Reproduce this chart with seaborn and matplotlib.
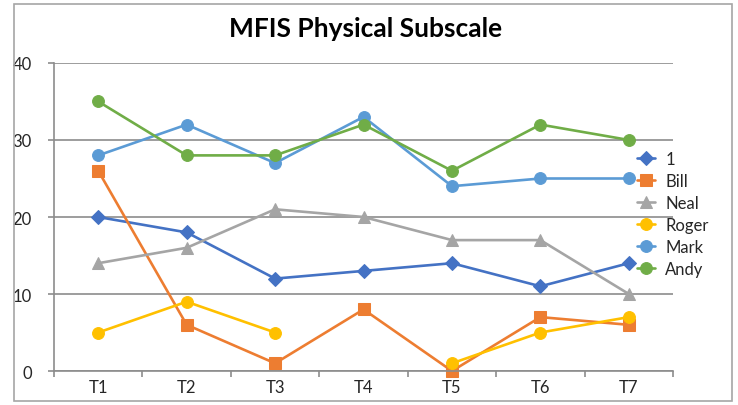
import matplotlib
matplotlib.use("Agg")
import matplotlib.pyplot as plt
import seaborn as sns
import numpy as np
import pandas as pd

# values
times = ["T1", "T2", "T3", "T4", "T5", "T6", "T7"]
series_names = ["1", "Bill", "Neal", "Roger", "Mark", "Andy"]
s_1 = [20, 18, 12, 13, 14, 11, 14]
s_bill = [26, 6, 1, 8, 0, 7, 6]
s_neal = [14, 16, 21, 20, 17, 17, 10]
s_roger = [5, 9, 5, np.nan, 1, 5, 7]
s_mark = [28, 32, 27, 33, 24, 25, 25]
s_andy = [35, 28, 28, 32, 26, 32, 30]

colors = ["#4472C4", "#ED7D31", "#A5A5A5", "#FFC000", "#5B9BD5", "#70AD47"]
markers = ["D", "s", "^", "o", "o", "o"]
msizes = [7.5, 8, 8, 8.5, 8.5, 8.5]

sns.set_theme(style="white")
plt.rcParams["font.family"] = ["Lato", "DejaVu Sans"]

fig = plt.figure(figsize=(7.38, 4.06), dpi=100)
ax = fig.add_axes([0.0732, 0.0837, 0.912 - 0.0732, 0.8424 - 0.0837])

x = np.arange(len(times))
all_vals = [s_1, s_bill, s_neal, s_roger, s_mark, s_andy]
for name, vals, c, m, ms in zip(series_names, all_vals, colors, markers, msizes):
    df = pd.DataFrame({"x": x, "y": vals})
    # break the line at missing values (Excel leaves a gap)
    df["seg"] = df["y"].isna().cumsum()
    df = df.dropna()
    sns.lineplot(data=df, x="x", y="y", units="seg", ax=ax, color=c, marker=m,
                 markersize=ms, markeredgecolor=c, linewidth=1.9, label=name,
                 clip_on=False, estimator=None, sort=False, legend=False)

ax.set_xlim(-0.5, 6.5)
ax.set_ylim(0, 40)
ax.set_yticks([0, 10, 20, 30, 40])
ax.set_yticklabels(["0", "10", "20", "30", "40"], fontsize=12)
ax.set_xticks(np.arange(-0.5, 7, 1))
ax.set_xticklabels([])
ax.set_xticks(x, minor=True)
ax.set_xticklabels(times, minor=True, fontsize=12)
ax.tick_params(axis="x", which="major", direction="out", length=4, width=1.2,
               color="#8c8c8c", bottom=True)
ax.tick_params(axis="x", which="minor", length=0, pad=6)
ax.tick_params(axis="y", direction="out", length=4, width=1.2, color="#8c8c8c",
               left=True, pad=12)
ax.yaxis.grid(True, color="#8c8c8c", linewidth=1.2)
ax.set_axisbelow(True)
for side in ["top", "right"]:
    ax.spines[side].set_visible(False)
for side in ["left", "bottom"]:
    ax.spines[side].set_color("#8c8c8c")
    ax.spines[side].set_linewidth(1.2)
ax.set_xlabel("")
ax.set_ylabel("")

# one legend entry per series
handles, labels, seen = [], [], set()
for line in ax.get_lines():
    lab = line.get_label()
    if lab in series_names and lab not in seen:
        seen.add(lab)
        handles.append(line)
        labels.append(lab)
leg = ax.legend(handles, labels, loc="upper left", bbox_to_anchor=(0.854, 0.643),
                bbox_transform=fig.transFigure, frameon=False, fontsize=12,
                handlelength=1.1, handletextpad=0.6, labelspacing=0.36,
                borderaxespad=0)

fig.text(0.495, 0.928, "MFIS Physical Subscale", ha="center", va="center",
         fontsize=19, fontweight="bold", color="black")

# outer chart border
border = plt.Rectangle((14 / 738, 4 / 406), 718 / 738, 397 / 406,
                       transform=fig.transFigure, fill=False,
                       edgecolor="#a6a6a6", linewidth=1.2)
fig.patches.append(border)

fig.savefig("out.png", dpi=100)
